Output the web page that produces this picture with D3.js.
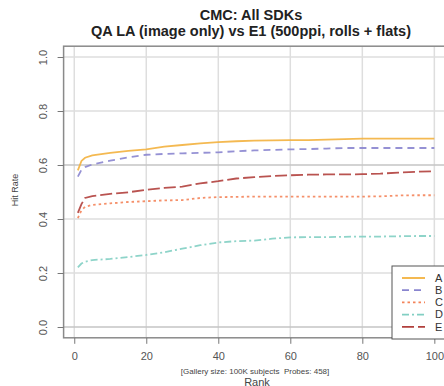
<!DOCTYPE html>
<html>
<head>
<meta charset="utf-8">
<script src="https://cdn.jsdelivr.net/npm/d3@7"></script>
<style>
  body { margin: 0; background: #fff; }
  text { font-family: "Liberation Sans", Arial, sans-serif; white-space: pre; }
</style>
</head>
<body>
<div class="chart"></div>
<script>
// ranks sampled along the curves
const ranks = [1, 2, 3, 5, 10, 15, 20, 25, 30, 35, 40, 45, 50, 55, 60, 65, 70, 75, 80, 85, 90, 95, 100];

const seriesA = [0.580, 0.615, 0.627, 0.636, 0.645, 0.652, 0.658, 0.668, 0.674, 0.680, 0.685, 0.688, 0.690, 0.691, 0.692, 0.692, 0.694, 0.696, 0.698, 0.698, 0.698, 0.698, 0.698];
const seriesB = [0.557, 0.582, 0.592, 0.602, 0.616, 0.628, 0.638, 0.641, 0.643, 0.645, 0.647, 0.651, 0.654, 0.656, 0.658, 0.659, 0.661, 0.663, 0.663, 0.663, 0.663, 0.663, 0.663];
const seriesC = [0.403, 0.432, 0.445, 0.452, 0.458, 0.463, 0.466, 0.469, 0.470, 0.478, 0.481, 0.482, 0.483, 0.483, 0.483, 0.483, 0.483, 0.483, 0.483, 0.484, 0.487, 0.488, 0.488];
const seriesD = [0.221, 0.235, 0.242, 0.248, 0.252, 0.259, 0.267, 0.277, 0.290, 0.303, 0.313, 0.318, 0.320, 0.327, 0.332, 0.333, 0.333, 0.334, 0.335, 0.335, 0.336, 0.337, 0.337];
const seriesE = [0.423, 0.455, 0.478, 0.485, 0.493, 0.499, 0.508, 0.515, 0.520, 0.532, 0.540, 0.550, 0.555, 0.559, 0.562, 0.564, 0.565, 0.565, 0.566, 0.568, 0.572, 0.575, 0.577];

const names = ['A', 'B', 'C', 'D', 'E'];
const xTicks = [0, 20, 40, 60, 80, 100];
const yTicks = [0.0, 0.2, 0.4, 0.6, 0.8, 1.0];

const colors = ['#f3b13e', '#8985cf', '#f4845a', '#82cfc3', '#b1403d'];
const dashes = [null, '7,5', '2.5,3', '7,3,2,3', '12,4'];

const width = 444, height = 386;

const svg = d3.select('.chart').append('svg')
  .attr('width', width)
  .attr('height', height);

// R-style extended ranges
let x = d3.scaleLinear().domain([1 - 0.04 * 99, 100 + 0.04 * 99]).range([63.6, 448.6]);
let y = d3.scaleLinear().domain([-0.04, 1.04]).range([337.8, 46.2]);

// grid
svg.append('g').selectAll('line').data(xTicks).enter().append('line')
  .attr('x1', d => x(d)).attr('x2', d => x(d))
  .attr('y1', y.range()[1]).attr('y2', y.range()[0])
  .attr('stroke', '#dedede').attr('stroke-width', 1.5);

svg.append('g').selectAll('line').data(yTicks).enter().append('line')
  .attr('x1', x.range()[0]).attr('x2', x.range()[1])
  .attr('y1', d => y(d)).attr('y2', d => y(d))
  .attr('stroke', d => (d === 0.6 || d === 0) ? '#c4c4c4' : '#dedede')
  .attr('stroke-width', 1.5);

// frame
svg.append('rect')
  .attr('x', x.range()[0]).attr('y', y.range()[1])
  .attr('width', x.range()[1] - x.range()[0])
  .attr('height', y.range()[0] - y.range()[1])
  .attr('fill', 'none').attr('stroke', '#8a8a8a').attr('stroke-width', 1.5);

// axes
let yAxis = svg.append('g')
  .attr('transform', `translate(${x.range()[0]},0)`)
  .call(d3.axisLeft(y).tickValues(yTicks).tickFormat(d3.format('.1f')).tickSize(6));
yAxis.select('.domain').remove();
yAxis.selectAll('line').attr('stroke', '#777');
yAxis.selectAll('text')
  .attr('transform', 'rotate(-90, -20, 0)')
  .attr('x', -20).attr('y', 0).attr('dy', '0.35em')
  .attr('text-anchor', 'middle')
  .attr('font-size', 11).attr('fill', '#555');

let xAxis = svg.append('g')
  .attr('transform', `translate(0,${y.range()[0]})`)
  .call(d3.axisBottom(x).tickValues(xTicks).tickSize(6).tickPadding(8));
xAxis.select('.domain').remove();
xAxis.selectAll('line').attr('stroke', '#777');
xAxis.selectAll('text').attr('font-size', 11).attr('fill', '#555');

// titles
svg.append('text').text('CMC: All SDKs')
  .attr('x', 251).attr('y', 20).attr('text-anchor', 'middle')
  .attr('font-weight', 'bold').attr('font-size', 14.5).attr('fill', '#222');
svg.append('text').text('QA LA (image only) vs E1 (500ppi, rolls + flats)')
  .attr('x', 251).attr('y', 36).attr('text-anchor', 'middle')
  .attr('font-weight', 'bold').attr('font-size', 14.5).attr('fill', '#222');

svg.append('text').text('[Gallery size: 100K subjects  Probes: 458]')
  .attr('x', 255).attr('y', 374).attr('text-anchor', 'middle')
  .attr('font-size', 8).attr('fill', '#444');
svg.append('text').text('Rank')
  .attr('x', 257).attr('y', 386).attr('text-anchor', 'middle')
  .attr('font-size', 11).attr('fill', '#444');
svg.append('text').text('Hit Rate')
  .attr('transform', 'translate(18,190) rotate(-90)')
  .attr('text-anchor', 'middle')
  .attr('font-size', 9).attr('fill', '#444');

// lines
const allSeries = [seriesA, seriesB, seriesC, seriesD, seriesE];
let line = d3.line().x(d => x(d[0])).y(d => y(d[1]));

svg.append('g').selectAll('path').data(allSeries).enter().append('path')
  .attr('d', s => line(ranks.map((r, i) => [r, s[i]])))
  .attr('fill', 'none')
  .attr('stroke', (d, i) => colors[i])
  .attr('stroke-width', 1.8)
  .attr('stroke-dasharray', (d, i) => dashes[i])
  .attr('stroke-opacity', 0.9);

// legend
let legend = svg.append('g').attr('transform', 'translate(392,266)');
legend.append('rect')
  .attr('width', 60).attr('height', 73)
  .attr('fill', '#fff').attr('stroke', '#555').attr('stroke-width', 1);
let items = legend.selectAll('.item').data(names).enter().append('g')
  .attr('transform', (d, i) => `translate(0,${12 + i * 12.2})`);
items.append('line')
  .attr('x1', 10).attr('x2', 33)
  .attr('stroke', (d, i) => colors[i])
  .attr('stroke-width', 1.8)
  .attr('stroke-dasharray', (d, i) => dashes[i]);
items.append('text').text(d => d)
  .attr('x', 43).attr('dy', '0.35em')
  .attr('font-size', 11).attr('fill', '#333');
</script>
</body>
</html>
